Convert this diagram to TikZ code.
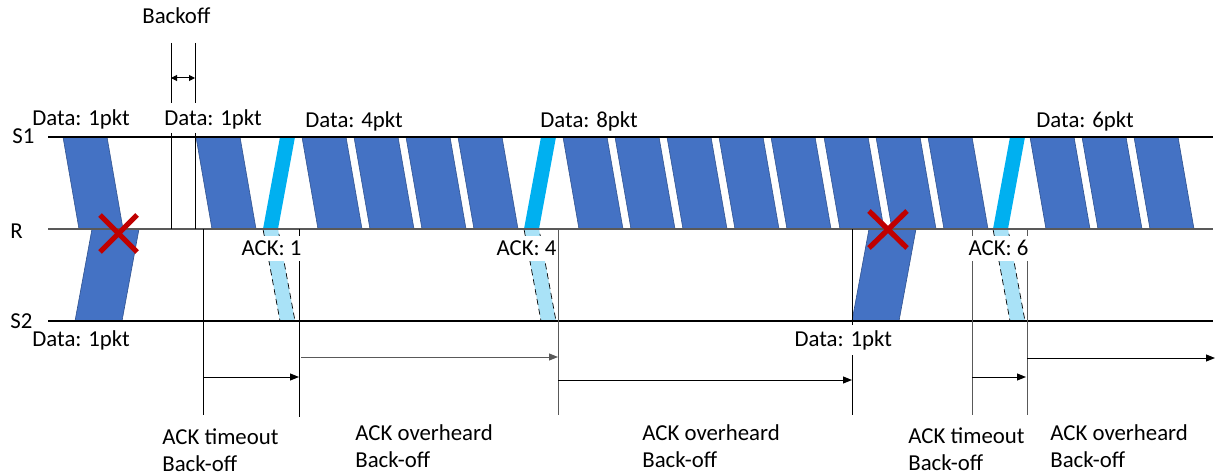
\documentclass[tikz,border=0pt]{standalone}
\usepackage{fontspec}
\setmainfont{Carlito}
\usetikzlibrary{arrows.meta}
\definecolor{pktblue}{HTML}{4472C4}
\definecolor{pktedge}{HTML}{2F528F}
\definecolor{ackblue}{HTML}{00B0F0}
\definecolor{acklight}{HTML}{A9E2F7}
\definecolor{crossred}{HTML}{C00000}
\definecolor{linegrey}{HTML}{595959}
\begin{document}
\begin{tikzpicture}[x=0.5pt,y=-0.5pt,
  lbl/.style={font=\fontsize{11.4}{13.5}\selectfont, inner sep=0pt, anchor=base west},
  mask/.style={fill=white, inner xsep=0.6pt, inner ysep=2.5pt},
  pkt/.style={fill=pktblue, draw=pktedge, line width=0.3pt},
  ack/.style={fill=ackblue},
  ackheard/.style={fill=acklight, draw=black, densely dashed, line width=0.35pt},
  axis/.style={line width=0.65pt},
  tick/.style={line width=0.5pt},
  greytick/.style={line width=0.5pt, draw=linegrey},
  tip/.style={-{Triangle[length=4.5pt,width=3.5pt]}, line width=0.5pt},
  cross/.style={crossred, line width=2.6pt},
]
\useasboundingbox (0,0) rectangle (1216,476);

% ---- data packets from S1 to R (top edge on S1, bottom edge on R)
\foreach \x in {63,196,302,354,406,458,563,615,667,719,771,824,876,928,1030,1082,1134}
  \path[pkt] (\x,137) -- ++(44,0) -- ++(16,92) -- ++(-44,0) -- cycle;

% ---- data packets from S2 to R
\foreach \x in {75,852}
  \path[pkt] (\x,321) -- ++(47,0) -- ++(17,-92) -- ++(-47,0) -- cycle;

% ---- ACKs from R to S1, and the copies overheard at S2
\foreach \x in {263,524,993}{
  \path[ack] (\x,229) -- ++(15,0) -- ++(17,-92) -- ++(-15,0) -- cycle;
  \path[ackheard] (\x,229) -- ++(15,0) -- ++(17,92) -- ++(-15,0) -- cycle;
}

% ---- station labels and time lines
\node[lbl] (s1) at (12,144) {S1};
\node[lbl] (r)  at (10,238) {R};
\node[lbl] (s2) at (10,328) {S2};
\coordinate (s1a) at (48,137);  \coordinate (s1b) at (1213,137);
\coordinate (ra)  at (48,229);  \coordinate (rb)  at (1213,229);
\coordinate (s2a) at (48,321);  \coordinate (s2b) at (1213,321);
\draw[axis] (s1a) -- (s1b);
\draw[axis, draw=linegrey] (ra) -- (rb);
\draw[axis] (s2a) -- (s2b);

% ---- collisions at R
\draw[cross] (100,215) -- (137,252) (137,215) -- (100,252);
\draw[cross] (869,211) -- (907,248) (907,211) -- (869,248);

% ---- backoff before the second transmission
\coordinate (bo1a) at (171,43);  \coordinate (bo1b) at (171,103);
\coordinate (bo1c) at (171,133); \coordinate (bo1d) at (171,229);
\coordinate (bo2a) at (195,43);  \coordinate (bo2b) at (195,103);
\coordinate (bo2c) at (195,133); \coordinate (bo2d) at (195,229);
\draw[tick] (bo1a) -- (bo1b) (bo1c) -- (bo1d);
\draw[tick] (bo2a) -- (bo2b) (bo2c) -- (bo2d);
\coordinate (boL) at (171,78); \coordinate (boR) at (195,78);
\draw[tick, {Triangle[length=3pt,width=3pt]}-{Triangle[length=3pt,width=3pt]}] (boL) -- (boR);
\node[lbl] (backoff) at (142,24) {Backoff};

% ---- back-off markers below S2
\coordinate (t1a) at (203,229);  \coordinate (t1b) at (203,415);
\coordinate (t2a) at (299,229);  \coordinate (t2b) at (299,417);
\coordinate (t3a) at (558,229);  \coordinate (t3b) at (558,415);
\coordinate (t4a) at (852,229);  \coordinate (t4b) at (852,415);
\coordinate (t5a) at (972,229);  \coordinate (t5b) at (972,415);
\coordinate (t6a) at (1027,229); \coordinate (t6b) at (1027,415);
\draw[tick] (t1a) -- (t1b);
\draw[tick] (t2a) -- (t2b);
\draw[greytick] (t3a) -- (t3b);
\draw[tick] (t4a) -- (t4b);
\draw[greytick] (t5a) -- (t5b);
\draw[greytick] (t6a) -- (t6b);

\coordinate (a1s) at (203,377);  \coordinate (a1e) at (299,377);
\coordinate (a2s) at (301,357);  \coordinate (a2e) at (558,357);
\coordinate (a3s) at (558,380);  \coordinate (a3e) at (852,380);
\coordinate (a4s) at (972,377);  \coordinate (a4e) at (1026,377);
\coordinate (a5s) at (1027,358); \coordinate (a5e) at (1215,358);
\draw[tip] (a1s) -- (a1e);
\draw[tip, draw=linegrey] (a2s) -- (a2e);
\draw[tip] (a3s) -- (a3e);
\draw[tip] (a4s) -- (a4e);
\draw[tip] (a5s) -- (a5e);

% ---- packet labels
\node[lbl] (d1)  at (32,126)  {Data: 1pkt};
\node[lbl] (d2)  at (164,126) {Data: 1pkt};
\node[lbl] (d4)  at (305,127) {Data: 4pkt};
\node[lbl] (d8)  at (540,127) {Data: 8pkt};
\node[lbl] (d6)  at (1036,127) {Data: 6pkt};
\node[lbl] (e1)  at (32,346)  {Data: 1pkt};
\node[lbl, mask] (e2) at (793,346) {Data: 1pkt};
\node[lbl, mask] (k1) at (240,256) {ACK: 1};
\node[lbl, mask] (k4) at (495,256) {ACK: 4};
\node[lbl, mask] (k6) at (967,256) {ACK: 6};

% ---- back-off reasons (base anchor sits on the second line)
\node[lbl, align=left] (b1) at (162,471) {ACK timeout\\Back-off};
\node[lbl, align=left] (b2) at (355,467) {ACK overheard\\Back-off};
\node[lbl, align=left] (b3) at (642,467) {ACK overheard\\Back-off};
\node[lbl, align=left] (b4) at (908,470) {ACK timeout\\Back-off};
\node[lbl, align=left] (b5) at (1050,467) {ACK overheard\\Back-off};
\end{tikzpicture}
\end{document}
